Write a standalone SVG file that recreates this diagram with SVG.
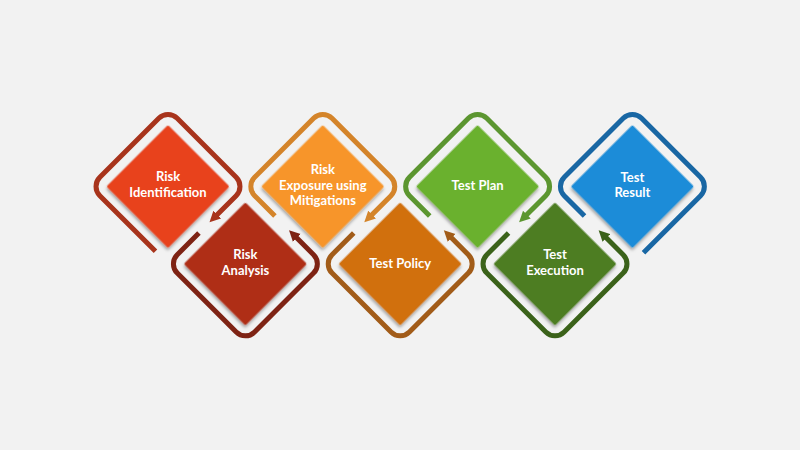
<svg xmlns="http://www.w3.org/2000/svg" width="800" height="450" viewBox="0 0 800 450">
  <style>
    .frame { fill: none; stroke-width: 5; stroke-linecap: butt; stroke-linejoin: round; }
    .dia { filter: url(#shadow); }
    .lbl { font-family: Lato, "Liberation Sans", Arial, sans-serif; font-weight: 700; font-size: 13px; fill: #FFFFFF; text-anchor: middle; }
  </style>
  <defs>
    <filter id="shadow" x="-20%" y="-20%" width="150%" height="150%">
      <feDropShadow dx="1.5" dy="2" stdDeviation="1.8" flood-color="#000000" flood-opacity="0.35"/>
    </filter>
    <marker id="ah-ri" viewBox="0 0 12 12" refX="2" refY="6" markerWidth="12" markerHeight="12" markerUnits="userSpaceOnUse" orient="auto"><path d="M0,0.5 L11,6 L0,11.5 Z" fill="#A8341C"/></marker>
    <marker id="ah-ra" viewBox="0 0 12 12" refX="2" refY="6" markerWidth="12" markerHeight="12" markerUnits="userSpaceOnUse" orient="auto"><path d="M0,0.5 L11,6 L0,11.5 Z" fill="#7E2314"/></marker>
    <marker id="ah-ex" viewBox="0 0 12 12" refX="2" refY="6" markerWidth="12" markerHeight="12" markerUnits="userSpaceOnUse" orient="auto"><path d="M0,0.5 L11,6 L0,11.5 Z" fill="#D4842A"/></marker>
    <marker id="ah-tp" viewBox="0 0 12 12" refX="2" refY="6" markerWidth="12" markerHeight="12" markerUnits="userSpaceOnUse" orient="auto"><path d="M0,0.5 L11,6 L0,11.5 Z" fill="#A25C19"/></marker>
    <marker id="ah-pl" viewBox="0 0 12 12" refX="2" refY="6" markerWidth="12" markerHeight="12" markerUnits="userSpaceOnUse" orient="auto"><path d="M0,0.5 L11,6 L0,11.5 Z" fill="#5C9630"/></marker>
    <marker id="ah-te" viewBox="0 0 12 12" refX="2" refY="6" markerWidth="12" markerHeight="12" markerUnits="userSpaceOnUse" orient="auto"><path d="M0,0.5 L11,6 L0,11.5 Z" fill="#3B621A"/></marker>
  </defs>
  <rect width="800" height="450" fill="#F2F2F2"/>

  <g id="connectors">
    <path class="frame" stroke="#A8341C" marker-end="url(#ah-ri)" transform="translate(168,186.5) rotate(45)" d="M37,54.7 L-41.7,54.7 A13,13 0 0 1 -54.7,41.7 L-54.7,-41.7 A13,13 0 0 1 -41.7,-54.7 L41.7,-54.7 A13,13 0 0 1 54.7,-41.7 L54.7,-13"/>
    <path class="frame" stroke="#7E2314" marker-end="url(#ah-ra)" transform="translate(245.4,263.9) rotate(45)" d="M-54.7,11 L-54.7,41.7 A13,13 0 0 0 -41.7,54.7 L41.7,54.7 A13,13 0 0 0 54.7,41.7 L54.7,-41.7 A13,13 0 0 0 41.7,-54.7 L16,-54.7"/>
    <path class="frame" stroke="#D4842A" marker-end="url(#ah-ex)" transform="translate(322.8,186.5) rotate(45)" d="M-13,54.7 L-41.7,54.7 A13,13 0 0 1 -54.7,41.7 L-54.7,-41.7 A13,13 0 0 1 -41.7,-54.7 L41.7,-54.7 A13,13 0 0 1 54.7,-41.7 L54.7,-13"/>
    <path class="frame" stroke="#A25C19" marker-end="url(#ah-tp)" transform="translate(400.2,263.9) rotate(45)" d="M-54.7,11 L-54.7,41.7 A13,13 0 0 0 -41.7,54.7 L41.7,54.7 A13,13 0 0 0 54.7,41.7 L54.7,-41.7 A13,13 0 0 0 41.7,-54.7 L16,-54.7"/>
    <path class="frame" stroke="#5C9630" marker-end="url(#ah-pl)" transform="translate(477.6,186.5) rotate(45)" d="M-13,54.7 L-41.7,54.7 A13,13 0 0 1 -54.7,41.7 L-54.7,-41.7 A13,13 0 0 1 -41.7,-54.7 L41.7,-54.7 A13,13 0 0 1 54.7,-41.7 L54.7,-13"/>
    <path class="frame" stroke="#3B621A" marker-end="url(#ah-te)" transform="translate(555,263.9) rotate(45)" d="M-54.7,11 L-54.7,41.7 A13,13 0 0 0 -41.7,54.7 L41.7,54.7 A13,13 0 0 0 54.7,41.7 L54.7,-41.7 A13,13 0 0 0 41.7,-54.7 L16,-54.7"/>
    <path class="frame" stroke="#1967A4" transform="translate(632.4,186.5) rotate(45)" d="M-13,54.7 L-41.7,54.7 A13,13 0 0 1 -54.7,41.7 L-54.7,-41.7 A13,13 0 0 1 -41.7,-54.7 L41.7,-54.7 A13,13 0 0 1 54.7,-41.7 L54.7,39"/>
  </g>

  <g id="node-risk-identification">
    <rect class="dia" x="-43.5" y="-43.5" width="87" height="87" rx="1.5" fill="#E8431E" transform="translate(168,186.5) rotate(45)"/>
    <text class="lbl" x="168" y="181">Risk</text>
    <text class="lbl" x="168" y="197">Identification</text>
  </g>
  <g id="node-risk-analysis">
    <rect class="dia" x="-43.5" y="-43.5" width="87" height="87" rx="1.5" fill="#AF2F19" transform="translate(245.4,263.9) rotate(45)"/>
    <text class="lbl" x="245.4" y="259">Risk</text>
    <text class="lbl" x="245.4" y="274.5">Analysis</text>
  </g>
  <g id="node-risk-exposure">
    <rect class="dia" x="-43.5" y="-43.5" width="87" height="87" rx="1.5" fill="#F7952C" transform="translate(322.8,186.5) rotate(45)"/>
    <text class="lbl" x="322.8" y="174">Risk</text>
    <text class="lbl" x="322.8" y="189.5">Exposure using</text>
    <text class="lbl" x="322.8" y="205">Mitigations</text>
  </g>
  <g id="node-test-policy">
    <rect class="dia" x="-43.5" y="-43.5" width="87" height="87" rx="1.5" fill="#D1700E" transform="translate(400.2,263.9) rotate(45)"/>
    <text class="lbl" x="400.2" y="268">Test Policy</text>
  </g>
  <g id="node-test-plan">
    <rect class="dia" x="-43.5" y="-43.5" width="87" height="87" rx="1.5" fill="#6BB12F" transform="translate(477.6,186.5) rotate(45)"/>
    <text class="lbl" x="477.6" y="190">Test Plan</text>
  </g>
  <g id="node-test-execution">
    <rect class="dia" x="-43.5" y="-43.5" width="87" height="87" rx="1.5" fill="#4D7D22" transform="translate(555,263.9) rotate(45)"/>
    <text class="lbl" x="555" y="259">Test</text>
    <text class="lbl" x="555" y="275">Execution</text>
  </g>
  <g id="node-test-result">
    <rect class="dia" x="-43.5" y="-43.5" width="87" height="87" rx="1.5" fill="#1C8CD8" transform="translate(632.4,186.5) rotate(45)"/>
    <text class="lbl" x="632.4" y="182">Test</text>
    <text class="lbl" x="632.4" y="197">Result</text>
  </g>
</svg>
